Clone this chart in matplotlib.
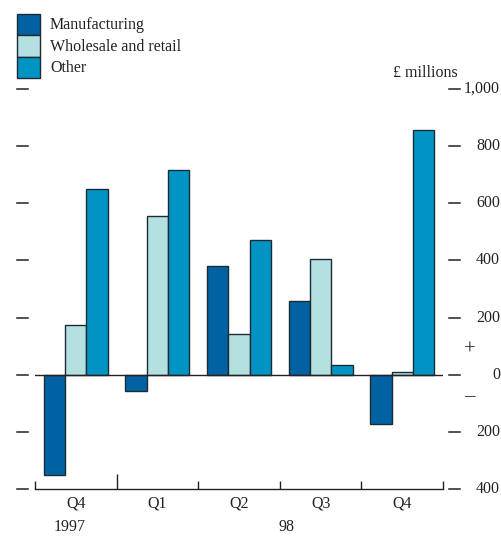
import matplotlib
matplotlib.use("Agg")
import matplotlib.pyplot as plt
from matplotlib.patches import Rectangle
import numpy as np

plt.rcParams["font.family"] = ["Liberation Serif", "DejaVu Serif"]

# Quarterly values, £ millions
quarters = ["Q4", "Q1", "Q2", "Q3", "Q4"]
years = ["1997", "98"]
manufacturing = [-350, -57, 382, 257, -172]
wholesale_retail = [173, 554, 141, 406, 9]
other = [649, 717, 470, 33, 857]
series_names = ["Manufacturing", "Wholesale and retail", "Other"]
y_ticks = [1000, 800, 600, 400, 200, 0, -200, -400]
y_tick_labels = ["1,000", "800", "600", "400", "200", "0", "200", "400"]

colors = ["#0062A2", "#B5E0E2", "#0094C4"]
edge = "#1d2b33"
FS = 11.5

W, H = 502, 537
fig = plt.figure(figsize=(W / 100, H / 100), dpi=100)
ax = fig.add_axes([35 / W, 1 - 489 / H, 408 / W, 400 / H])

x = np.arange(len(quarters))
bw = 0.261
for i, (vals, c) in enumerate(zip([manufacturing, wholesale_retail, other], colors)):
    ax.bar(x + (i - 1) * bw, vals, width=bw, color=c, edgecolor=edge,
           linewidth=1.0, zorder=2)

ax.set_xlim(-0.5, len(quarters) - 0.5)
ax.set_ylim(-400, 1000)
ax.axhline(0, color="#222222", lw=1.0, zorder=3)

for s in ["top", "left", "right"]:
    ax.spines[s].set_visible(False)
ax.spines["bottom"].set_color("#222222")
ax.spines["bottom"].set_linewidth(1.0)

# Category boundary ticks on the bottom axis; year break is taller
ax.set_xticks([0.5])
ax.set_xticks([-0.5, 1.5, 2.5, 3.5, 4.5], minor=True)
ax.tick_params(axis="x", which="major", direction="in", length=11, width=1.0,
               color="#222222", labelbottom=False)
ax.tick_params(axis="x", which="minor", direction="in", length=5.5, width=1.0,
               color="#222222")
ax.set_yticks([])

# Quarter and year labels
for xi, q in zip(x, quarters):
    ax.text(xi, -400 - 52, q, ha="center", va="center", fontsize=FS,
            color="#222222", clip_on=False)
ax.text(-0.07, -400 - 134, years[0], ha="center", va="center", fontsize=FS,
        color="#222222", clip_on=False)
ax.text(2.58, -400 - 134, years[1], ha="center", va="center", fontsize=FS,
        color="#222222", clip_on=False)

# Value scale dashes on both sides, labels on the right
ytr = ax.get_yaxis_transform()
for yv, lab in zip(y_ticks, y_tick_labels):
    ax.plot([-0.044, -0.017], [yv, yv], transform=ytr, color="#222222",
            lw=1.1, clip_on=False)
    ax.plot([1.015, 1.042], [yv, yv], transform=ytr, color="#222222",
            lw=1.1, clip_on=False)
    ax.text(1.14, yv, lab, transform=ytr, ha="right", va="center",
            fontsize=FS, color="#222222")
ax.text(1.065, 87, "+", transform=ytr, ha="center", va="center",
        fontsize=15, color="#222222")
ax.text(1.065, -75, "\u2013", transform=ytr, ha="center", va="center",
        fontsize=15, color="#222222")
fig.text(458 / W, 1 - 73 / H, "£ millions", ha="right", va="center",
         fontsize=FS, color="#222222")

# Legend block
box_x, box_w, box_h, top = 17.5, 22.5, 21.5, 13.5
for i, (name, c) in enumerate(zip(series_names, colors)):
    y0 = top + i * box_h
    fig.patches.append(Rectangle((box_x / W, 1 - (y0 + box_h) / H), box_w / W,
                                 box_h / H, transform=fig.transFigure,
                                 facecolor=c, edgecolor=edge, linewidth=1.0))
    fig.text(50 / W, 1 - (y0 + box_h / 2 + 1) / H, name, ha="left",
             va="center", fontsize=FS, color="#222222")

fig.savefig("out.png", dpi=100)
